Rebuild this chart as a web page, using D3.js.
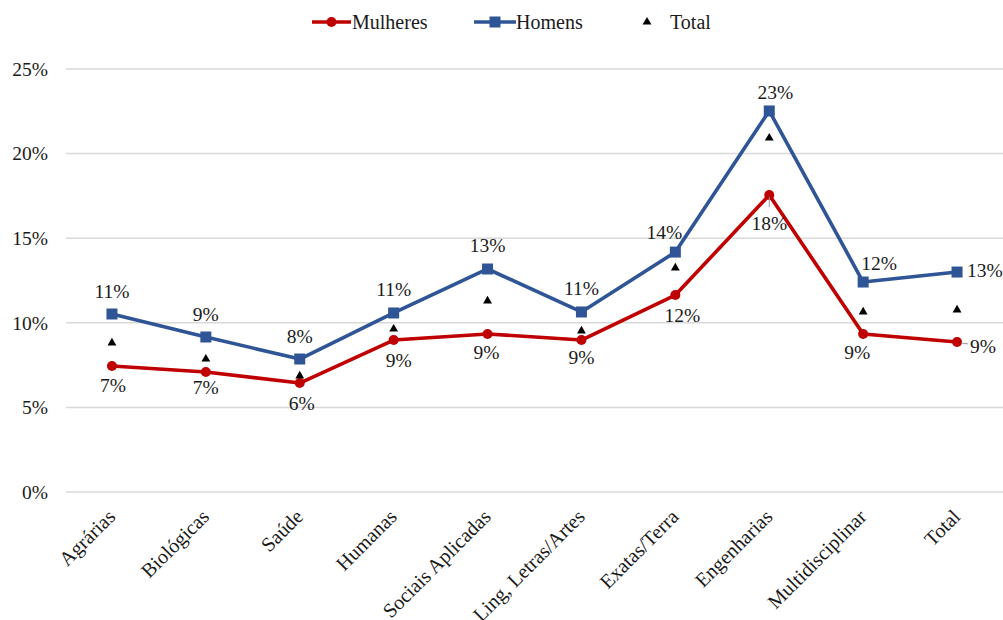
<!DOCTYPE html>
<html>
<head>
<meta charset="utf-8">
<script src="https://cdn.jsdelivr.net/npm/d3@7"></script>
<style>
  body { margin: 0; background: #fff; }
  svg { display: block; }
  svg text { font-family: "Liberation Serif", "Times New Roman", serif; }
</style>
</head>
<body>
<svg id="chart" width="1003" height="620"></svg>
<script>
// Share of students by field of knowledge (%)
const categories = ["Agrárias", "Biológicas", "Saúde", "Humanas", "Sociais Aplicadas",
  "Ling, Letras/Artes", "Exatas/Terra", "Engenharias", "Multidisciplinar", "Total"];
const mulheres = [7.45, 7.09, 6.44, 8.98, 9.34, 8.98, 11.64, 17.55, 9.34, 8.87];
const homens   = [10.52, 9.16, 7.86, 10.58, 13.18, 10.64, 14.18, 22.52, 12.41, 13.0];
const total    = [8.81, 7.86, 6.86, 9.63, 11.29, 9.52, 13.24, 20.92, 10.64, 10.76];
const yTicks = [0, 5, 10, 15, 20, 25];

// Data-label placement (offset from the point, in px) and anchor
const homensLabelPos = [[0,-23],[0,-23],[0,-23],[0,-23],[0,-23],[0,-23],[-11,-20],[6,-18],[16,-19],[10,-2,"start"]];
const mulheresLabelPos = [[1,20],[0,15],[2,20],[5,20],[-1,19],[0,17],[7,20],[0,28],[-6,19],[13,5,"start"]];

const RED = "#C00000", BLUE = "#2F5597", GRID = "#D9D9D9", TEXT = "#1a1a1a";
const FONT = "Liberation Serif, Times New Roman, serif";

const svg = d3.select("#chart");
const x = d3.scalePoint().domain(categories).range([65, 1004]).padding(0.5);
const y = d3.scaleLinear().domain([0, 25]).range([492, 69]);
const pct = d3.format(".0%");

// Gridlines
svg.append("g").selectAll("line").data(yTicks).join("line")
  .attr("x1", 66).attr("x2", 1003)
  .attr("y1", d => y(d)).attr("y2", d => y(d))
  .attr("stroke", GRID).attr("stroke-width", 1.5);

// Y axis labels
const yAxis = svg.append("g").attr("transform", "translate(48,0)")
  .call(d3.axisLeft(y).tickValues(yTicks).tickSize(0).tickPadding(0).tickFormat(d => d + "%"));
yAxis.select(".domain").remove();
yAxis.attr("font-family", FONT);
yAxis.selectAll("text").attr("font-size", 19.5).attr("fill", TEXT).attr("font-family", FONT);

// X axis category labels, rotated
const xAxis = svg.append("g").attr("transform", "translate(0,492)")
  .call(d3.axisBottom(x).tickSize(0).tickPadding(0));
xAxis.select(".domain").remove();
xAxis.attr("font-family", FONT);
xAxis.selectAll("text")
  .attr("font-size", 20.2).attr("fill", TEXT).attr("font-family", FONT)
  .attr("text-anchor", "end")
  .attr("y", 0).attr("dy", 0)
  .attr("transform", "translate(4,26) rotate(-45)");

// Series lines
const line = d3.line().x((d, i) => x(categories[i])).y(d => y(d));
svg.append("path").datum(mulheres).attr("d", line)
  .attr("fill", "none").attr("stroke", RED).attr("stroke-width", 3.6).attr("stroke-linejoin", "round");
svg.append("path").datum(homens).attr("d", line)
  .attr("fill", "none").attr("stroke", BLUE).attr("stroke-width", 3.6).attr("stroke-linejoin", "round");

// Markers
svg.append("g").selectAll("circle").data(mulheres).join("circle")
  .attr("cx", (d, i) => x(categories[i])).attr("cy", d => y(d)).attr("r", 5).attr("fill", RED);
svg.append("g").selectAll("rect").data(homens).join("rect")
  .attr("x", (d, i) => x(categories[i]) - 5.5).attr("y", d => y(d) - 5.5)
  .attr("width", 11).attr("height", 11).attr("fill", BLUE);
const tri = d3.symbol().type(d3.symbolTriangle).size(34);
svg.append("g").selectAll("path").data(total).join("path")
  .attr("d", tri)
  .attr("transform", (d, i) => `translate(${x(categories[i])},${y(d)})`)
  .attr("fill", "#000");

// Leader lines for the labels placed away from their points
const engI = categories.indexOf("Engenharias"), totI = categories.indexOf("Total");
svg.append("line").attr("x1", x(categories[engI])).attr("x2", x(categories[engI]))
  .attr("y1", y(mulheres[engI]) + 2).attr("y2", y(mulheres[engI]) + 12)
  .attr("stroke", "#999").attr("stroke-width", 1);
svg.append("line").attr("x1", x(categories[totI]) + 4).attr("x2", x(categories[totI]) + 11)
  .attr("y1", y(mulheres[totI]) + 1).attr("y2", y(mulheres[totI]) + 2)
  .attr("stroke", "#999").attr("stroke-width", 1);

// Data labels
function labels(values, pos) {
  svg.append("g").selectAll("text").data(values).join("text")
    .attr("x", (d, i) => x(categories[i]) + pos[i][0])
    .attr("y", (d, i) => y(d) + pos[i][1])
    .attr("dominant-baseline", "central")
    .attr("text-anchor", (d, i) => pos[i][2] || "middle")
    .attr("font-family", FONT)
    .attr("font-size", 19.5).attr("fill", TEXT)
    .text(d => pct(d / 100));
}
labels(homens, homensLabelPos);
labels(mulheres, mulheresLabelPos);

// Legend
const lg = svg.append("g").attr("font-size", 20).attr("fill", TEXT).attr("font-family", FONT);
lg.append("line").attr("x1", 312).attr("x2", 351).attr("y1", 22).attr("y2", 22)
  .attr("stroke", RED).attr("stroke-width", 3.6);
lg.append("circle").attr("cx", 331.5).attr("cy", 22).attr("r", 5).attr("fill", RED);
lg.append("text").attr("x", 352).attr("y", 22).attr("dominant-baseline", "central").text("Mulheres");
lg.append("line").attr("x1", 474).attr("x2", 516).attr("y1", 22).attr("y2", 22)
  .attr("stroke", BLUE).attr("stroke-width", 3.6);
lg.append("rect").attr("x", 489.5).attr("y", 16.5).attr("width", 11).attr("height", 11).attr("fill", BLUE);
lg.append("text").attr("x", 516).attr("y", 22).attr("dominant-baseline", "central").text("Homens");
lg.append("path").attr("d", tri).attr("transform", "translate(647,22)").attr("fill", "#000");
lg.append("text").attr("x", 670).attr("y", 22).attr("dominant-baseline", "central").text("Total");
</script>
</body>
</html>
